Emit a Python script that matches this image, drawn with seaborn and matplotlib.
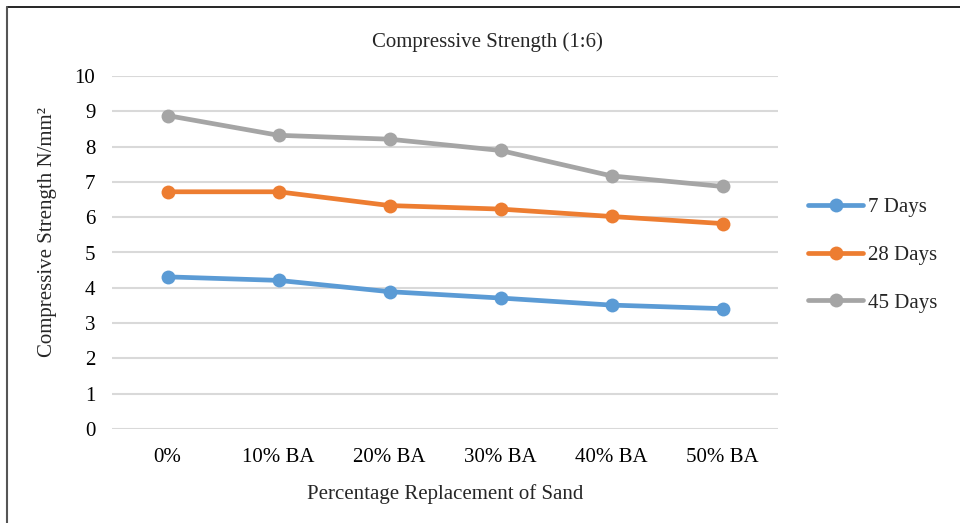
import matplotlib
matplotlib.use("Agg")
import matplotlib.pyplot as plt
import seaborn as sns
import pandas as pd
from matplotlib.lines import Line2D

categories = ["0%", "10% BA", "20% BA", "30% BA", "40% BA", "50% BA"]
days7 = [4.31, 4.21, 3.89, 3.71, 3.51, 3.41]
days28 = [6.72, 6.72, 6.33, 6.23, 6.02, 5.82]
days45 = [8.88, 8.32, 8.21, 7.89, 7.17, 6.87]
series_names = ["7 Days", "28 Days", "45 Days"]
colors = ["#5B9BD5", "#ED7D31", "#A5A5A5"]

rows = []
for name, vals in zip(series_names, [days7, days28, days45]):
    for i, (c, v) in enumerate(zip(categories, vals)):
        rows.append({"pos": i, "cat": c, "value": v, "series": name})
df = pd.DataFrame(rows)

sns.set_theme(style="white")
plt.rcParams["font.family"] = ["Liberation Serif", "DejaVu Serif"]

fig = plt.figure(figsize=(9.6, 5.23), dpi=100)
ax = fig.add_axes([112/960, 1 - 429/523, 666/960, 353/523])

sns.lineplot(data=df, x="pos", y="value", hue="series", palette=colors,
             marker="o", markersize=10, markeredgewidth=0, linewidth=3.4,
             ax=ax, legend=False, zorder=3)

ax.set_xlim(-0.5, 5.5)
ax.set_ylim(0, 10)
ax.set_yticks(range(0, 11))
ax.set_xticks(range(len(categories)))
ax.set_xticklabels(categories)
ax.grid(axis="y", color="#D9D9D9", linewidth=1.5)
ax.grid(axis="x", visible=False)
for s in ax.spines.values():
    s.set_visible(False)
ax.tick_params(axis="both", length=0, labelsize=15, colors="black")
ax.tick_params(axis="y", pad=12)
ax.tick_params(axis="x", pad=14)
ax.set_xlabel("Percentage Replacement of Sand", fontsize=15, labelpad=12)
ax.set_ylabel("Compressive Strength N/mm²", fontsize=15)
ax.yaxis.set_label_coords(-0.083, 0.558)
fig.text(487/960, 1 - 42/523, "Compressive Strength (1:6)", fontsize=15,
         ha="center", va="center")

handles = [Line2D([0], [0], color=c, linewidth=3.4, marker="o", markersize=10,
                  markeredgewidth=0) for c in colors]
fig.legend(handles, series_names, loc="center left", bbox_to_anchor=(0.8226, 0.512),
           frameon=False, fontsize=15, labelspacing=1.35, handlelength=2.6,
           handletextpad=0.25)

# outer frame lines (top and left)
fig.add_artist(Line2D([0.007, 1.0], [1 - 7/523, 1 - 7/523], color="black", linewidth=1.2,
                      transform=fig.transFigure))
fig.add_artist(Line2D([0.007, 0.007], [0.0, 1 - 7/523], color="#555555", linewidth=1.5,
                      transform=fig.transFigure))

fig.savefig("out.png", dpi=100)
